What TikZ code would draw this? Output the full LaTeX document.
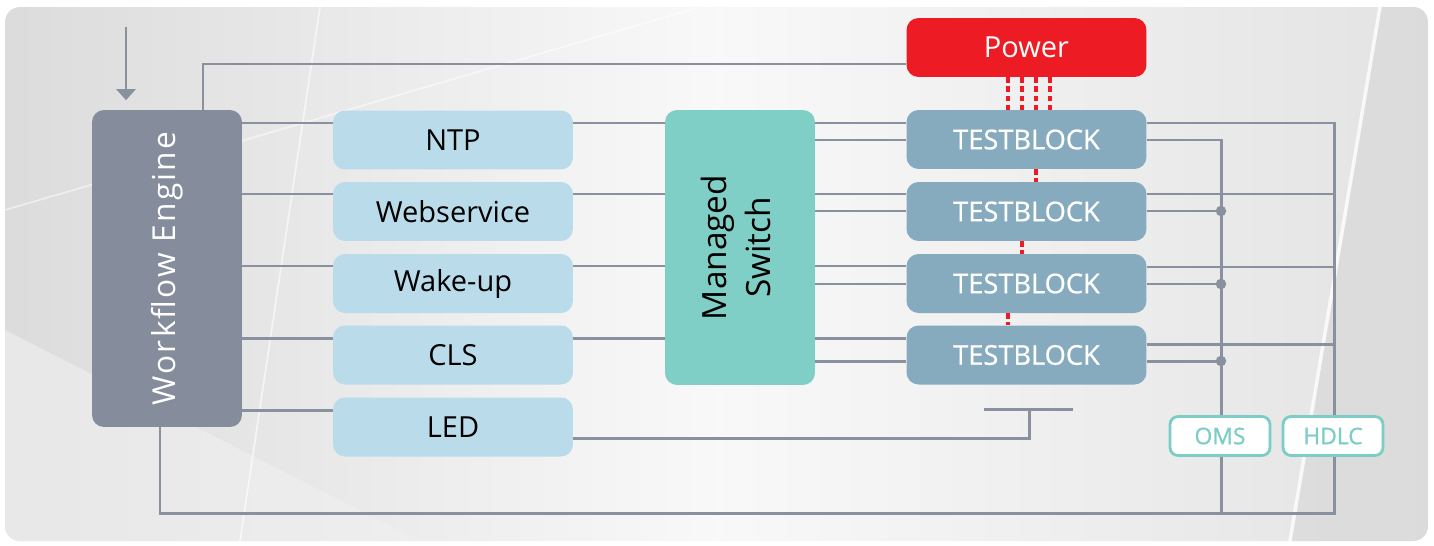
\documentclass[tikz,border=0pt]{standalone}
\usepackage{fontspec}
\setmainfont{Open Sans}
\usetikzlibrary{arrows.meta}
\definecolor{enginegrey}{RGB}{133, 141, 156}
\definecolor{servicecol}{RGB}{185, 219, 234}
\definecolor{switchcol}{RGB}{127, 207, 199}
\definecolor{blockcol}{RGB}{134, 171, 190}
\definecolor{powerred}{RGB}{237, 28, 36}
\definecolor{wiregrey}{RGB}{138, 145, 158}
\definecolor{busteal}{RGB}{124, 205, 198}

\begin{document}
\begin{tikzpicture}[x=0.02cm, y=-0.02cm,
  box/.style={rounded corners=0.24cm, inner sep=0pt, minimum width=4.8cm, minimum height=1.18cm},
  service/.style={box, fill=servicecol, font=\fontsize{16.5}{18}\selectfont},
  testblock/.style={box, fill=blockcol, text=white, font=\fontsize{15.5}{18}\selectfont\addfontfeature{FakeBold=0.8}},
  busbox/.style={rounded corners=0.16cm, draw=busteal, line width=1.6pt, fill=white, text=busteal,
    minimum width=2cm, minimum height=0.78cm, inner sep=0pt, font=\fontsize{13}{14}\selectfont\addfontfeature{FakeBold=1}},
  wire/.style={draw=wiregrey, line width=1.7pt},
  feed/.style={draw=powerred, line width=1.8pt, dash pattern=on 3pt off 2.2pt},
  joint/.style={circle, fill=wiregrey, inner sep=0pt, minimum size=0.21cm}]

  \useasboundingbox (0,0) rectangle (1434,545);

  % Background
  \begin{scope}
    \clip[rounded corners=0.3cm] (5,7) rectangle (1428,541);
    \shade[left color=gray!28, right color=gray!22, middle color=white!95!gray] (0,0) rectangle (1434,545);
    \fill[gray!30, opacity=0.7] (1380,7) -- (1428,7) -- (1428,541) -- (1290,541) -- cycle;
    \fill[gray!12, opacity=0.6] (5,330) -- (420,541) -- (5,541) -- cycle;
    \draw[white, line width=2pt, opacity=0.8] (1380,7) -- (1290,541);
    \draw[white, line width=1pt, opacity=0.6] (320,7) -- (240,541);
    \draw[white, line width=1pt, opacity=0.5] (5,210) -- (700,7);
  \end{scope}

  % Main blocks
  \node[box, fill=enginegrey, text=white, minimum width=3cm, minimum height=6.34cm,
    font=\fontsize{18}{20}\selectfont\addfontfeature{LetterSpace=7}] (wf) at (167,268.5)
    {\rotatebox{90}{Workflow Engine}};

  \node[service] (ntp) at (453,140) {NTP};
  \node[service] (web) at (453,211.5) {Webservice};
  \node[service] (wake) at (453,283.5) {Wake-up};
  \node[service] (cls) at (453,355) {CLS};
  \node[service] (led) at (453,427) {LED};

  \node[box, fill=switchcol, minimum width=3cm, minimum height=5.5cm,
    font=\fontsize{19}{25}\selectfont] (sw) at (740,247.5)
    {\rotatebox{90}{\begin{tabular}{@{}c@{}}Managed\\Switch\end{tabular}}};

  \node[box, fill=powerred, text=white, font=\fontsize{16.5}{18}\selectfont] (power) at (1026.5,47.5) {Power};

  \node[testblock] (t1) at (1026.5,139.5) {TESTBLOCK};
  \node[testblock] (t2) at (1026.5,211.5) {TESTBLOCK};
  \node[testblock] (t3) at (1026.5,283.5) {TESTBLOCK};
  \node[testblock] (t4) at (1026.5,355) {TESTBLOCK};

  % Wire levels
  \coordinate (rbus) at (1334,0);
  \coordinate (ibus) at (1221,0);
  \coordinate (base) at (0,513);
  \coordinate (drop) at (160,0);
  \coordinate (topleg) at (203,0);
  \coordinate (feedline) at (0,64);
  \coordinate (start) at (126,27);

  % Input arrow
  \draw[wire, -{Triangle[width=0.38cm, length=0.22cm]}, shorten >=0.19cm] (start) -- (wf.north -| start);

  % Workflow to Power
  \draw[wire] (wf.north -| topleg) -- (topleg |- feedline) -- (power.west |- feedline);

  % Rows
  \foreach \i/\svc/\a/\b/\c in {1/ntp/123/140/123, 2/web/194/211/194, 3/wake/266/284/267, 4/cls/338/361/344} {
    \coordinate (up\i) at (0,\a);
    \coordinate (lo\i) at (0,\b);
    \coordinate (rt\i) at (0,\c);
    \draw[wire] (wf.east |- up\i) -- (\svc.west |- up\i);
    \draw[wire] (\svc.east |- up\i) -- (sw.west |- up\i);
    \draw[wire] (sw.east |- up\i) -- (t\i.west |- up\i);
    \draw[wire] (sw.east |- lo\i) -- (t\i.west |- lo\i);
  }

  \foreach \i in {2, 3, 4} {
    \draw[wire] (t\i.east |- rt\i) -- (rbus |- rt\i);
    \draw[wire] (t\i.east |- lo\i) -- (ibus |- lo\i) node[joint] (j\i) {};
  }

  % Buses
  \draw[wire] (t1.east |- rt1) -- (rbus |- rt1) -- (rbus |- base) -- (drop |- base) -- (wf.south -| drop);
  \draw[wire] (t1.east |- lo1) -- (ibus |- lo1) -- (ibus |- base);

  % LED
  \coordinate (ledin) at (0,410);
  \coordinate (ledout) at (0,438);
  \coordinate (earth) at (1029,409);
  \coordinate (earthL) at (984,409);
  \coordinate (earthR) at (1073,409);
  \draw[wire] (wf.east |- ledin) -- (led.west |- ledin);
  \draw[wire] (led.east |- ledout) -- (earth |- ledout) -- (earth);
  \draw[wire] (earthL) -- (earthR);

  % Power feed
  \foreach \d in {-18.5, -4.5, 9.5, 23.5} {
    \draw[feed] ([xshift=\d*0.02cm]power.south) -- ([xshift=\d*0.02cm]t1.north);
  }
  \draw[feed] ([xshift=9.5*0.02cm]t1.south) -- ([xshift=9.5*0.02cm]t2.north);
  \draw[feed] ([xshift=-4.5*0.02cm]t2.south) -- ([xshift=-4.5*0.02cm]t3.north);
  \draw[feed] ([xshift=-18.5*0.02cm]t3.south) -- ([xshift=-18.5*0.02cm]t4.north);

  % Bus labels
  \node[busbox] (oms) at (1220,436) {OMS};
  \node[busbox] (hdlc) at (1333,436) {HDLC};

\end{tikzpicture}
\end{document}
